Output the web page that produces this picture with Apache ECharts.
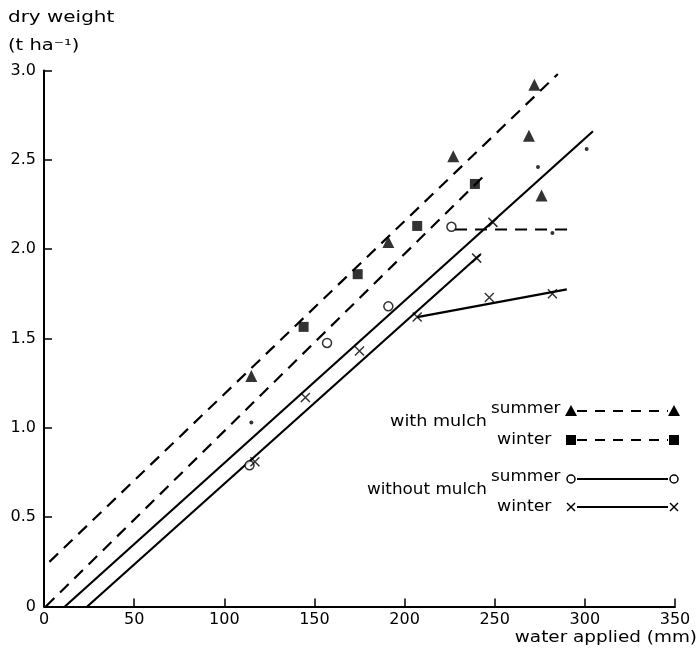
<!DOCTYPE html>
<html><head><meta charset="utf-8">
<script src="https://cdn.jsdelivr.net/npm/echarts@6/dist/echarts.min.js"></script>
<style>html,body{margin:0;padding:0;background:#fff}#c{width:700px;height:649px}</style>
</head><body><div id="c"></div>
<script>
// ---- data ----
const summerMulch = [[115,1.29],[191,2.04],[227,2.52],[269,2.635],[272,2.92],[276,2.30]];
const winterMulch = [[144,1.565],[174,1.86],[207,2.13],[239,2.365]];
const extraDots = [[115,1.03],[274,2.46],[282,2.09],[301,2.56]];
const summerNoMulch = [[114,0.79],[157,1.475],[191,1.68],[226,2.125]];
const winterNoMulch = [[117,0.81],[145,1.17],[175,1.43],[207,1.62],[240,1.95],[249,2.15],[247,1.73],[282,1.75]];
const summerMulchLine = [[3,0.25],[285,2.98]];
const winterMulchLine = [[1,0],[245,2.42]];
const summerNoMulchLine = [[11.6,0],[304.5,2.66]];
const summerNoMulchPlateau = [[228,2.11],[291,2.11]];
const winterNoMulchLine = [[24,0],[242,1.97]];
const winterNoMulchPlateau = [[207,1.62],[290,1.775]];
const xAxisTitle = 'water applied (mm)';
const yAxisTitle = ['dry weight', '(t ha\u207B\u00B9)'];
const legendGroups = ['with mulch', 'without mulch'];
const legendSeasons = ['summer', 'winter'];

const FONT = 'DejaVu Sans';
const chart = echarts.init(document.getElementById('c'), null, {renderer: 'canvas'});
const dash = [12, 8];
const crossPath = 'path://M0,0L10,10M10,0L0,10';

function lineSeries(data, type) {
  return {type: 'line', data: data, symbol: 'none', silent: true, z: 2,
    lineStyle: {color: '#000', width: 2.2, type: type}};
}

// legend built from graphic elements
const lx0 = 571, lx1 = 674;
function legendRow(y, kind, dashed) {
  const els = [];
  els.push({type: 'line', shape: {x1: lx0 + 6, y1: y, x2: lx1 - 6, y2: y},
    style: {stroke: '#000', lineWidth: 2.2, lineDash: dashed ? [10, 8] : null}});
  [lx0, lx1].forEach(function (cx) {
    if (kind === 'tri') els.push({type: 'polygon', shape: {points: [[cx, y - 6], [cx - 6, y + 5], [cx + 6, y + 5]]}, style: {fill: '#000'}});
    if (kind === 'sq') els.push({type: 'rect', shape: {x: cx - 5, y: y - 5, width: 10, height: 10}, style: {fill: '#000'}});
    if (kind === 'circ') els.push({type: 'circle', shape: {cx: cx, cy: y, r: 4}, style: {fill: '#fff', stroke: '#000', lineWidth: 1.5}});
    if (kind === 'x') els.push({type: 'polyline', shape: {points: [[cx - 4, y - 4], [cx + 4, y + 4]]}, style: {stroke: '#000', lineWidth: 1.5}},
                               {type: 'polyline', shape: {points: [[cx + 4, y - 4], [cx - 4, y + 4]]}, style: {stroke: '#000', lineWidth: 1.5}});
  });
  return els;
}
function txt(x, y, s, align, size, sx) {
  return {type: 'text', x: x, y: y, scaleX: sx || 1, style: {text: s, font: (size || 16) + 'px "' + FONT + '"', fill: '#000',
    textAlign: align || 'left', textVerticalAlign: 'middle'}};
}

const graphics = [].concat(
  [txt(8, 18, yAxisTitle[0], 'left', 15, 1.33), txt(8, 46, yAxisTitle[1], 'left', 15, 1.3),
   txt(697, 638, xAxisTitle, 'right', 16, 1.15),
   txt(487, 422, legendGroups[0], 'right', 16, 1.1), txt(487, 490, legendGroups[1], 'right', 16, 1.05),
   txt(491, 409, legendSeasons[0], 'left', 16, 1.05), txt(497, 440, legendSeasons[1], 'left', 16, 1.08),
   txt(491, 477, legendSeasons[0], 'left', 16, 1.05), txt(497, 507, legendSeasons[1], 'left', 16, 1.08)],
  legendRow(411, 'tri', true), legendRow(440, 'sq', true),
  legendRow(479, 'circ', false), legendRow(507, 'x', false)
);

chart.setOption({
  animation: false,
  backgroundColor: '#fff',
  grid: {left: 44, right: 25, top: 70.5, bottom: 42.5, containLabel: false},
  xAxis: {type: 'value', min: 0, max: 350, interval: 50,
    axisLine: {onZero: false, lineStyle: {color: '#000', width: 2}},
    axisTick: {inside: true, length: 8, lineStyle: {color: '#000', width: 1.5}},
    axisLabel: {color: '#000', fontFamily: FONT, fontSize: 16, margin: 5},
    splitLine: {show: false}},
  yAxis: {type: 'value', min: 0, max: 3, interval: 0.5,
    axisLine: {show: true, onZero: false, lineStyle: {color: '#000', width: 2}},
    axisTick: {show: true, inside: true, length: 8, lineStyle: {color: '#000', width: 1.5}},
    axisLabel: {color: '#000', fontFamily: FONT, fontSize: 16, margin: 8,
      formatter: function (v) { return v === 0 ? '0' : v.toFixed(1); }},
    splitLine: {show: false}},
  graphic: graphics,
  series: [
    lineSeries(summerMulchLine, dash),
    lineSeries(winterMulchLine, dash),
    lineSeries(summerNoMulchLine, 'solid'),
    lineSeries(summerNoMulchPlateau, dash),
    lineSeries(winterNoMulchLine, 'solid'),
    lineSeries(winterNoMulchPlateau, 'solid'),
    {type: 'scatter', data: summerMulch, symbol: 'triangle', symbolSize: 12, z: 5, itemStyle: {color: '#000'}},
    {type: 'scatter', data: winterMulch, symbol: 'rect', symbolSize: 10, z: 5, itemStyle: {color: '#000'}},
    {type: 'scatter', data: extraDots, symbol: 'circle', symbolSize: 4, z: 5, itemStyle: {color: '#000'}},
    {type: 'scatter', data: summerNoMulch, symbol: 'circle', symbolSize: 9, z: 5,
      itemStyle: {color: '#fff', borderColor: '#000', borderWidth: 1.5}},
    {type: 'scatter', data: winterNoMulch, symbol: crossPath, symbolSize: 9, z: 5,
      itemStyle: {color: 'none', borderColor: '#000', borderWidth: 1.5}}
  ]
});
</script></body></html>
